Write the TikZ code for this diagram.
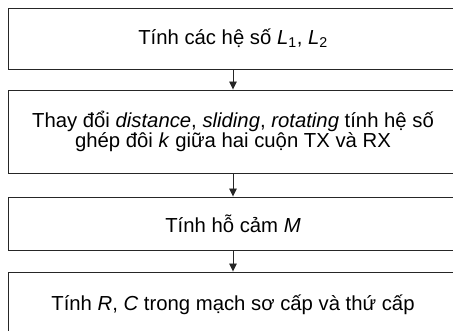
\documentclass[tikz,border=0pt]{standalone}
\usepackage{fontspec}
\setmainfont{Liberation Sans}
\usetikzlibrary{arrows.meta}
\begin{document}
\begin{tikzpicture}[x=1pt,y=1pt,
  stepbox/.style={draw=black!85, line width=0.9pt, minimum width=450pt,
    inner sep=0pt, align=center, font=\fontsize{20.3}{20}\selectfont},
  flow/.style={draw=black!85, line width=0.9pt, -{Triangle[length=8pt,width=7.5pt]}}]
\useasboundingbox (0,0) rectangle (453,-331);
\node[stepbox, minimum height=61pt] (b1) at (233,-38.5) {Tính các hệ số \textit{L}\textsubscript{1}, \textit{L}\textsubscript{2}};
\node[stepbox, minimum height=83pt] (b2) at (233,-131.5) {Thay đổi \textit{distance}, \textit{sliding}, \textit{rotating} tính hệ số\\ghép đôi \textit{k} giữa hai cuộn TX và RX};
\node[stepbox, minimum height=53pt] (b3) at (233,-223.5) {Tính hỗ cảm \textit{M}};
\node[stepbox, minimum height=66pt] (b4) at (233,-305) {Tính \textit{R}, \textit{C} trong mạch sơ cấp và thứ cấp};
\draw[flow] (b1) -- (b2);
\draw[flow] (b2) -- (b3);
\draw[flow] (b3) -- (b4);
\end{tikzpicture}
\end{document}
